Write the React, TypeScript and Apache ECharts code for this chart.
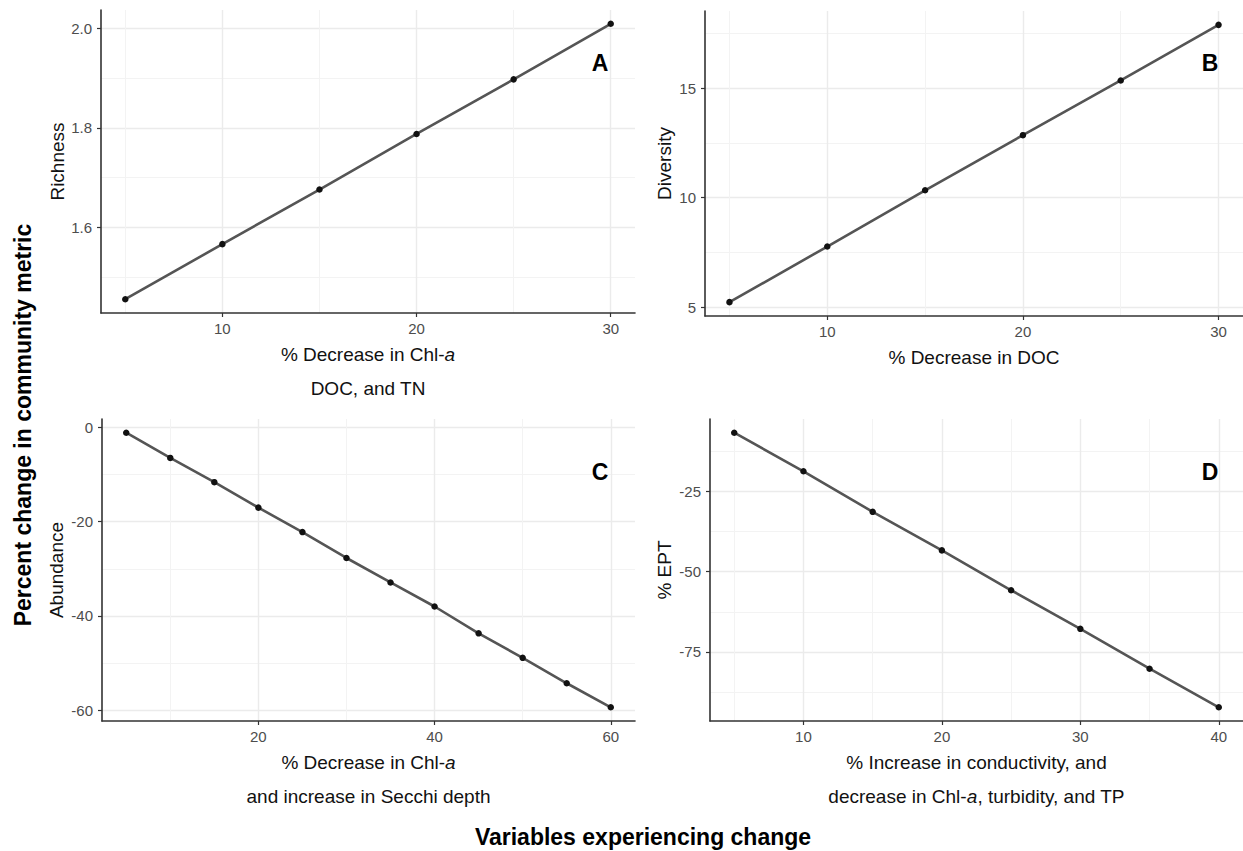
import React, { useEffect, useRef } from "react";
import * as echarts from "echarts";

// ---------- data ----------
const xA = [5, 10, 15, 20, 25, 30];
const richness = [1.455, 1.566, 1.676, 1.788, 1.898, 2.01];

const xB = [5, 10, 15, 20, 25, 30];
const diversity = [5.23, 7.77, 10.34, 12.86, 15.36, 17.9];

const xC = [5, 10, 15, 20, 25, 30, 35, 40, 45, 50, 55, 60];
const abundance = [-1.1, -6.45, -11.6, -17.0, -22.2, -27.7, -32.9, -38.0, -43.7, -48.9, -54.3, -59.4];

const xD = [5, 10, 15, 20, 25, 30, 35, 40];
const ept = [-6.8, -18.8, -31.4, -43.4, -55.8, -67.8, -80.2, -92.2];

// tick labels (major) and minor grid positions
const ticksAX = [10, 20, 30];
const minorAX = [5, 15, 25];
const ticksAY = [1.6, 1.8, 2.0];
const minorAY = [1.5, 1.7, 1.9];

const ticksBX = [10, 20, 30];
const minorBX = [5, 15, 25];
const ticksBY = [5, 10, 15];
const minorBY = [7.5, 12.5, 17.5];

const ticksCX = [20, 40, 60];
const minorCX = [10, 30, 50];
const ticksCY = [-60, -40, -20, 0];
const minorCY = [-50, -30, -10];

const ticksDX = [10, 20, 30, 40];
const minorDX = [5, 15, 25, 35];
const ticksDY = [-75, -50, -25];
const minorDY = [-87.5, -62.5, -37.5, -12.5];

const panelLetters = ["A", "B", "C", "D"];
const yTitles = ["Richness", "Diversity", "Abundance", "% EPT"];
const xTitles = [
  "% Decrease in Chl-{i|a}\nDOC, and TN",
  "% Decrease in DOC",
  "% Decrease in Chl-{i|a}\nand increase in Secchi depth",
  "% Increase in conductivity, and\ndecrease in Chl-{i|a}, turbidity, and TP",
];
const leftTitle = "Percent change in community metric";
const bottomTitle = "Variables experiencing change";

const FONT = '"Liberation Sans", Arial, Helvetica, sans-serif';

function expand(vals: number[]): [number, number] {
  const mn = Math.min(...vals);
  const mx = Math.max(...vals);
  const r = mx - mn;
  return [mn - 0.05 * r, mx + 0.05 * r];
}

const App: React.FC = () => {
  const ref = useRef<HTMLDivElement>(null);

  useEffect(() => {
    if (!ref.current) return;
    const chart = echarts.init(ref.current, undefined, { renderer: "svg" });

    const panels = [
      { xs: xA, ys: richness, tx: ticksAX, mx: minorAX, ty: ticksAY, my: minorAY, fmt: (v: number) => v.toFixed(1), yGap: 33 },
      { xs: xB, ys: diversity, tx: ticksBX, mx: minorBX, ty: ticksBY, my: minorBY, fmt: (v: number) => String(v), yGap: 31 },
      { xs: xC, ys: abundance, tx: ticksCX, mx: minorCX, ty: ticksCY, my: minorCY, fmt: (v: number) => String(v), yGap: 36 },
      { xs: xD, ys: ept, tx: ticksDX, mx: minorDX, ty: ticksDY, my: minorDY, fmt: (v: number) => String(v), yGap: 36 },
    ];

    const grids = [
      { left: 101, top: 10, width: 534, height: 303 },
      { left: 705, top: 11, width: 538, height: 305 },
      { left: 102, top: 419, width: 533, height: 302 },
      { left: 710, top: 419, width: 533, height: 302 },
    ];

    const axisLine = { show: true, onZero: false, lineStyle: { color: "#333333", width: 1.6 } };
    const majorSplit = { show: true, lineStyle: { color: "#EBEBEB", width: 1.4 } };
    const minorSplit = { show: true, lineStyle: { color: "#F3F3F3", width: 1 } };
    const labelStyle = { color: "#4D4D4D", fontSize: 15, fontFamily: FONT };
    const nameStyle = {
      color: "#111111",
      fontSize: 19,
      fontFamily: FONT,
      lineHeight: 34,
      rich: {
        i: { fontStyle: "italic", fontSize: 19, fontFamily: FONT, color: "#111111", lineHeight: 34 },
      },
    };

    const xAxis: any[] = [];
    const yAxis: any[] = [];
    const series: any[] = [];

    panels.forEach((p, i) => {
      const [xmin, xmax] = expand(p.xs);
      const [ymin, ymax] = expand(p.ys);
      xAxis.push({
        type: "value",
        gridIndex: i,
        position: "bottom",
        min: xmin,
        max: xmax,
        name: xTitles[i],
        nameLocation: "middle",
        nameGap: 24,
        nameTextStyle: nameStyle,
        axisLine,
        axisTick: { show: true, length: 4, lineStyle: { color: "#333333", width: 1.2 }, customValues: p.tx },
        axisLabel: { ...labelStyle, margin: 8, customValues: p.tx, formatter: (v: number) => String(v) },
        splitLine: majorSplit,
      });
      xAxis.push({
        type: "value",
        gridIndex: i,
        position: "top",
        min: xmin,
        max: xmax,
        axisLine: { show: false, onZero: false },
        axisTick: { show: false, customValues: p.mx },
        axisLabel: { show: false, customValues: p.mx },
        splitLine: minorSplit,
      });
      yAxis.push({
        type: "value",
        gridIndex: i,
        position: "left",
        min: ymin,
        max: ymax,
        name: yTitles[i],
        nameLocation: "middle",
        nameGap: p.yGap,
        nameTextStyle: { color: "#111111", fontSize: 19, fontFamily: FONT },
        axisLine,
        axisTick: { show: true, length: 4, lineStyle: { color: "#333333", width: 1.2 }, customValues: p.ty },
        axisLabel: { ...labelStyle, margin: 9, customValues: p.ty, formatter: p.fmt },
        splitLine: majorSplit,
      });
      yAxis.push({
        type: "value",
        gridIndex: i,
        position: "right",
        min: ymin,
        max: ymax,
        axisLine: { show: false, onZero: false },
        axisTick: { show: false, customValues: p.my },
        axisLabel: { show: false, customValues: p.my },
        splitLine: minorSplit,
      });
      series.push({
        type: "line",
        xAxisIndex: 2 * i,
        yAxisIndex: 2 * i,
        data: p.xs.map((x, k) => [x, p.ys[k]]),
        symbol: "circle",
        symbolSize: 6.5,
        showSymbol: true,
        itemStyle: { color: "#111111", borderWidth: 0 },
        lineStyle: { color: "#555555", width: 2.6 },
        silent: true,
        z: 3,
      });
    });

    const letterPos = [
      [600, 63],
      [1210, 63],
      [600, 472],
      [1210, 472],
    ];

    const graphic: any[] = panelLetters.map((t, i) => ({
      type: "text",
      x: letterPos[i][0],
      y: letterPos[i][1],
      style: {
        text: t,
        fontSize: 23,
        fontWeight: "bold",
        fontFamily: FONT,
        fill: "#000000",
        align: "center",
        verticalAlign: "middle",
      },
      z: 10,
    }));
    graphic.push({
      type: "text",
      x: 23,
      y: 425,
      rotation: Math.PI / 2,
      style: {
        text: leftTitle,
        fontSize: 23,
        fontWeight: "bold",
        fontFamily: FONT,
        fill: "#000000",
        align: "center",
        verticalAlign: "middle",
      },
    });
    graphic.push({
      type: "text",
      x: 643,
      y: 837,
      style: {
        text: bottomTitle,
        fontSize: 23,
        fontWeight: "bold",
        fontFamily: FONT,
        fill: "#000000",
        align: "center",
        verticalAlign: "middle",
      },
    });

    chart.setOption({
      animation: false,
      backgroundColor: "#ffffff",
      grid: grids.map((g) => ({ ...g, containLabel: false })),
      xAxis,
      yAxis,
      series,
      graphic,
    });

    return () => {
      chart.dispose();
    };
  }, []);

  return (
    <div
      ref={ref}
      style={{ position: "absolute", left: 0, top: 0, width: 1243, height: 851, background: "#fff" }}
    />
  );
};

export default App;
